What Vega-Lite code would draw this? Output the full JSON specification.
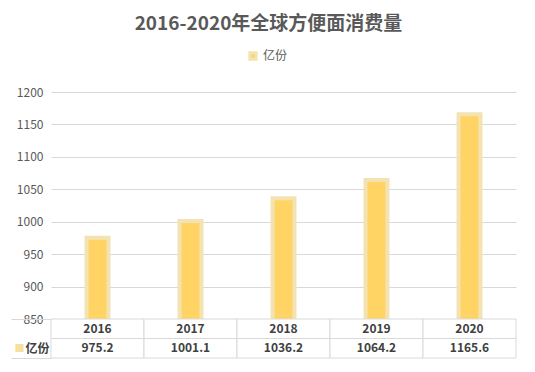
{
  "$schema": "https://vega.github.io/schema/vega-lite/v6.json",
  "background": "white",
  "padding": {"left": 10, "top": 15, "right": 20, "bottom": 12},
  "title": {"text": "2016-2020年全球方便面消费量", "fontSize": 19, "font": "Noto Sans CJK SC", "fontWeight": "bold", "color": "#595959", "anchor": "middle", "frame": "bounds", "offset": 16, "dx": 5},
  "datasets": {
    "bars": [
      {"year": "2016", "value": 975.2, "series": "亿份"},
      {"year": "2017", "value": 1001.1, "series": "亿份"},
      {"year": "2018", "value": 1036.2, "series": "亿份"},
      {"year": "2019", "value": 1064.2, "series": "亿份"},
      {"year": "2020", "value": 1165.6, "series": "亿份"}
    ],
    "table": [
      {"year": "2016", "row": "year", "label": "2016"},
      {"year": "2017", "row": "year", "label": "2017"},
      {"year": "2018", "row": "year", "label": "2018"},
      {"year": "2019", "row": "year", "label": "2019"},
      {"year": "2020", "row": "year", "label": "2020"},
      {"year": "2016", "row": "val", "label": "975.2"},
      {"year": "2017", "row": "val", "label": "1001.1"},
      {"year": "2018", "row": "val", "label": "1036.2"},
      {"year": "2019", "row": "val", "label": "1064.2"},
      {"year": "2020", "row": "val", "label": "1165.6"}
    ]
  },
  "spacing": 0,
  "bounds": "flush",
  "vconcat": [
    {
      "width": 465,
      "height": 227,
      "data": {"name": "bars"},
      "mark": {"type": "bar", "width": 22, "stroke": "#F3E3B3", "strokeWidth": 4, "clip": true},
      "encoding": {
        "x": {"field": "year", "type": "ordinal", "axis": null, "scale": {"paddingInner": 0, "paddingOuter": 0}},
        "y": {"field": "value", "type": "quantitative", "scale": {"domain": [850, 1200], "zero": false},
          "axis": {"values": [850, 900, 950, 1000, 1050, 1100, 1150, 1200], "format": "d", "domain": false, "ticks": false, "grid": true, "gridColor": "#D9D9D9", "labelColor": "#595959", "labelFontSize": 12, "labelPadding": 8, "title": null}},
        "color": {"field": "series", "type": "nominal", "scale": {"range": ["#FFD465"]},
          "legend": {"orient": "none", "legendX": 196, "legendY": -42, "title": null, "symbolType": "square", "symbolSize": 40, "symbolStrokeColor": "#F3E3B3", "symbolStrokeWidth": 3, "labelFontSize": 12, "labelColor": "#595959", "labelFont": "Noto Sans CJK SC"}}
      }
    },
    {
      "width": 465,
      "height": 39,
      "data": {"name": "table"},
      "encoding": {
        "x": {"field": "year", "type": "ordinal", "axis": null, "scale": {"paddingInner": 0, "paddingOuter": 0}},
        "y": {"field": "row", "type": "nominal", "scale": {"domain": ["year", "val"], "paddingInner": 0, "paddingOuter": 0},
          "axis": {"title": "■", "titleAngle": 0, "titleX": -32, "titleY": 29, "titleFontSize": 10, "titleColor": "#F5E09E", "titleAlign": "center", "titleBaseline": "middle",
            "labelExpr": "datum.value == 'val' ? '亿份' : ''", "labelFontWeight": "bold", "labelColor": "#404040", "labelFontSize": 12, "labelPadding": -38, "labelAlign": "right",
            "domain": false, "ticks": true, "tickBand": "extent", "tickSize": 40, "tickColor": {"condition": {"test": "datum.value == 'year'", "value": "transparent"}, "value": "#D9D9D9"}}}
      },
      "layer": [
        {"mark": {"type": "rect", "fill": "white", "stroke": "#D9D9D9", "strokeWidth": 1}},
        {"mark": {"type": "text", "fontWeight": "bold", "fontSize": 12, "color": "#404040", "font": "Noto Sans CJK SC"}, "encoding": {"text": {"field": "label"}}}
      ]
    }
  ],
  "config": {"view": {"stroke": null}, "font": "Noto Sans CJK SC"}
}
